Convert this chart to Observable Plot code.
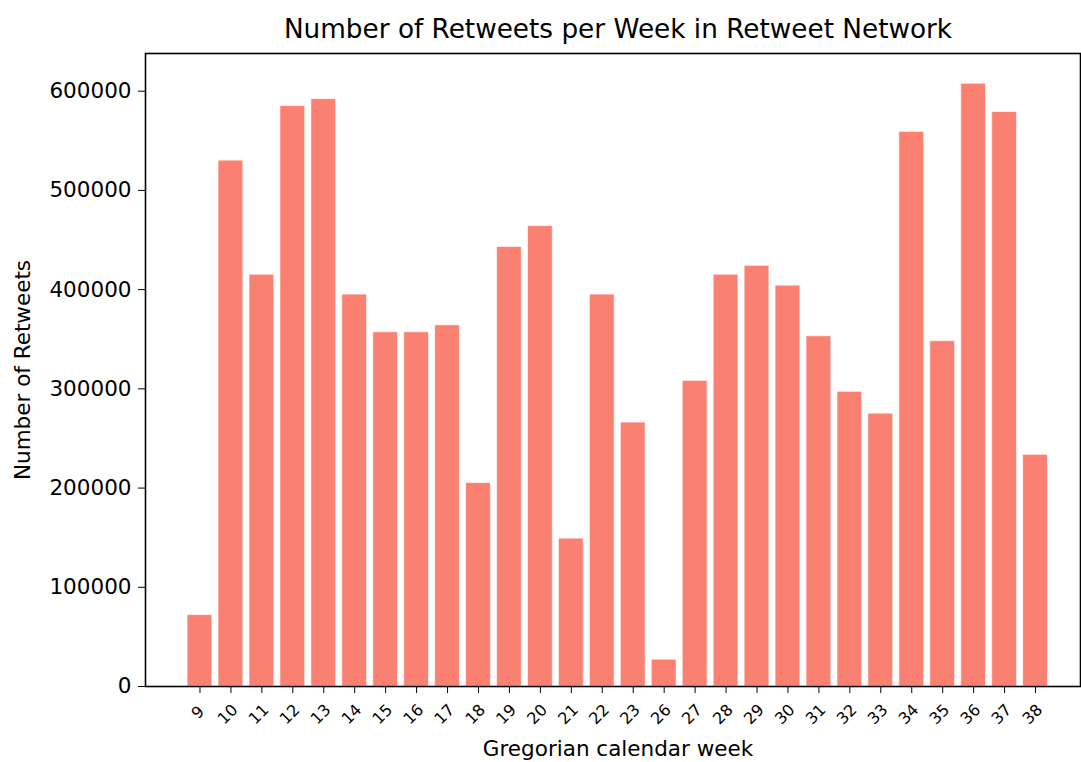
<!DOCTYPE html>
<html>
<head>
<meta charset="utf-8">
<script src="https://cdn.jsdelivr.net/npm/d3@7"></script>
<script src="https://cdn.jsdelivr.net/npm/@observablehq/plot@0.6"></script>
<style>
  html, body { margin: 0; padding: 0; background: #fff; }
  #chart { position: relative; width: 1081px; height: 762px; overflow: hidden; }
  #title {
    box-sizing: border-box; width: 1081px; height: 48px;
    padding-top: 17px; padding-left: 155px;
    text-align: center; white-space: nowrap;
    font-family: "DejaVu Sans", sans-serif; font-size: 26.3px; line-height: 25.5px; color: #000;
  }
  #chart svg { display: block; }
</style>
</head>
<body>
<div id="chart">
  <div id="title">Number of Retweets per Week in Retweet Network</div>
</div>
<script>
const weeks = ["9","10","11","12","13","14","15","16","17","18","19","20","21","22","23","26","27","28","29","30","31","32","33","34","35","36","37","38"];
const retweets = [72000, 530000, 415000, 585000, 592000, 395000, 357000, 357000, 364000, 205000, 443000, 464000, 149000, 395000, 266000, 27000, 308000, 415000, 424000, 404000, 353000, 297000, 275000, 559000, 348000, 607500, 579000, 233500];
const yTicks = [0, 100000, 200000, 300000, 400000, 500000, 600000];
const titleText = "Number of Retweets per Week in Retweet Network";
const xLabel = "Gregorian calendar week";
const yLabel = "Number of Retweets";

const data = weeks.map((w, i) => ({week: w, value: retweets[i]}));

const plot = Plot.plot({
  width: 1081,
  height: 714,
  marginTop: 5,
  marginBottom: 76,
  marginLeft: 145,
  marginRight: 1,
  style: {fontFamily: "DejaVu Sans, sans-serif", fontSize: "21.5px", color: "#000", background: "#fff", overflow: "visible"},
  x: {
    domain: weeks,
    range: [187.1, 1047.4],
    paddingInner: 0.2,
    paddingOuter: 0,
    round: false,
    tickSize: 7,
    tickFormat: () => "",
    label: null
  },
  y: {
    domain: [0, 638000],
    ticks: yTicks,
    tickFormat: d => String(d),
    tickSize: 7,
    tickPadding: 7,
    label: null
  },
  marks: [
    Plot.barY(data, {x: "week", y: "value", fill: "#FA8072", stroke: "#fff", strokeWidth: 1, strokeOpacity: 0.6}),
    Plot.frame({stroke: "#000", strokeWidth: 1.6}),
    Plot.text(weeks.filter(w => w.length > 1), {x: d => d, frameAnchor: "bottom", dy: 28, dx: -3, rotate: -45, fontSize: 16, textAnchor: "middle", lineAnchor: "middle", fill: "#000"}),
    Plot.text(weeks.filter(w => w.length === 1), {x: d => d, frameAnchor: "bottom", dy: 26, dx: -2, rotate: -45, fontSize: 16, textAnchor: "middle", lineAnchor: "middle", fill: "#000"}),
    Plot.text([xLabel], {frameAnchor: "bottom", dx: 5, dy: 69, lineAnchor: "bottom", textAnchor: "middle", fontSize: 21.5, fill: "#000"}),
    Plot.text([yLabel], {frameAnchor: "left", dx: -122, rotate: -90, lineAnchor: "middle", textAnchor: "middle", fontSize: 21.5, fill: "#000"})
  ]
});
document.getElementById("chart").appendChild(plot);
</script>
</body>
</html>
